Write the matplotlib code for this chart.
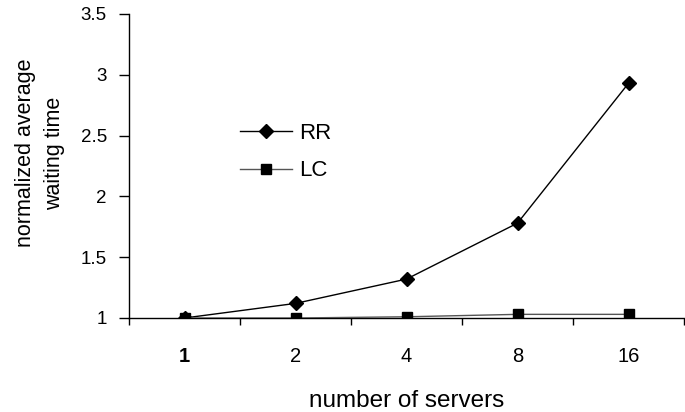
import matplotlib
matplotlib.use("Agg")
import matplotlib.pyplot as plt

categories = ["1", "2", "4", "8", "16"]
rr = [1.0, 1.12, 1.32, 1.78, 2.93]
lc = [1.0, 1.0, 1.01, 1.03, 1.03]
yticks = [1, 1.5, 2, 2.5, 3, 3.5]
ytick_labels = ["1", "1.5", "2", "2.5", "3", "3.5"]

plt.rcParams["font.family"] = ["Liberation Sans", "DejaVu Sans"]

W, H = 685, 412
fig = plt.figure(figsize=(W / 100, H / 100), dpi=100)
L, R, B, T = 129, 684, 318, 14
ax = fig.add_axes([L / W, 1 - B / H, (R - L) / W, (B - T) / H])
x = list(range(len(categories)))
ax.plot(x, rr, color="black", lw=1, marker="D", ms=7, label="RR", zorder=3)
ax.plot(x, lc, color="#555555", lw=1, marker="s", ms=7.5, mfc="black", mec="black",
        label="LC", zorder=3)

ax.set_xlim(-0.5, 4.5)
ax.set_ylim(1, 3.5)
ax.set_yticks(yticks)
ax.set_yticklabels(ytick_labels)
ax.set_xticks(x)
ax.set_xticklabels(categories)
ax.get_xticklabels()[0].set_fontweight("bold")
ax.set_xticks([i + 0.5 for i in range(-1, 5)], minor=True)
ax.tick_params(axis="x", which="major", length=0, pad=21, labelsize=14.5)
ax.tick_params(axis="x", which="minor", length=5, direction="out", width=1)
ax.tick_params(axis="y", length=7, direction="out", width=1, labelsize=13.5, pad=9)
for s in ["top", "right"]:
    ax.spines[s].set_visible(False)
ax.spines["left"].set_linewidth(1)
ax.spines["bottom"].set_linewidth(1)
for sp in ["left", "bottom"]:
    ax.spines[sp].set_clip_on(False)

ax.set_xlabel("number of servers", fontsize=17.5, labelpad=17)
fig.text(40 / W, 1 - 153 / H, "normalized average\nwaiting time", rotation=90,
         ha="center", va="center", fontsize=15.5, linespacing=1.55, multialignment="center")

leg = ax.legend(loc="center left", bbox_to_anchor=((240 - L) / (R - L), 1 - (152 - T) / (B - T)),
                frameon=False, fontsize=16, handlelength=2.35, labelspacing=0.75,
                handletextpad=0.3, borderpad=0, borderaxespad=0)

fig.savefig("out.png", dpi=100)
